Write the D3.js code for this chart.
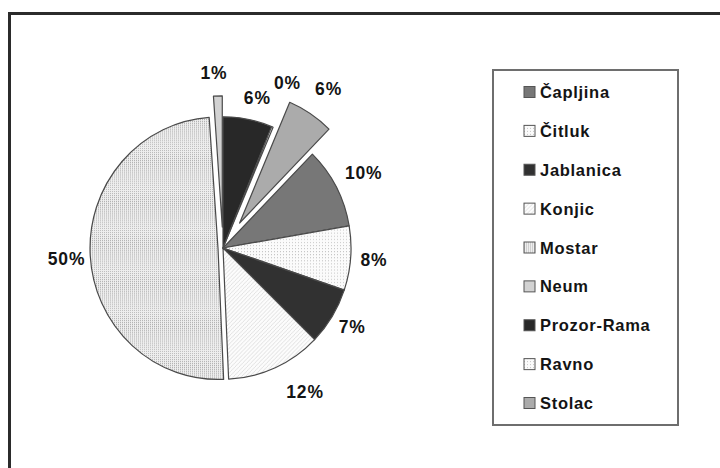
<!DOCTYPE html>
<html>
<head>
<meta charset="utf-8">
<script src="https://cdn.jsdelivr.net/npm/d3@7"></script>
<style>
  body { margin: 0; background: #fff; }
  text { font-family: "Liberation Sans", Arial, sans-serif; font-weight: bold; fill: #141414; }
</style>
</head>
<body>
<div id="chart"></div>
<script>
// data (shares in %, clockwise from Čapljina)
const municipalities = ["Čapljina", "Čitluk", "Jablanica", "Konjic", "Mostar", "Neum", "Prozor-Rama", "Ravno", "Stolac"];
const shares = [10.0, 7.9, 7.1, 12.0, 49.6, 1.1, 6.2, 0.2, 5.9];

const w = 720;   //width of svg
const h = 468;   //height of svg
const cx = 223, cy = 248;  //pie centre
const R = 128;   //pie radius
const ky = 1.025; //pie is a touch taller than wide

// looks of each slice
const fills = {
  "Čapljina": "#777777",
  "Čitluk": "url(#dots-light)",
  "Jablanica": "#313131",
  "Konjic": "url(#hatch-light)",
  "Mostar": "url(#dots-dense)",
  "Neum": "#d2d2d2",
  "Prozor-Rama": "#282828",
  "Ravno": "url(#dots-light)",
  "Stolac": "#ababab"
};
const explode = { "Mostar": 5, "Neum": 21, "Stolac": 30 };
const labelNudge = {
  "Ravno": [6, -26], "Konjic": [18, 7], "Neum": [-3, -3], "Stolac": [5, -8],
  "Prozor-Rama": [5, -2], "Čapljina": [2, -5], "Mostar": [5, 2]
};

const svg = d3.select("#chart").append("svg")
  .attr("width", w)
  .attr("height", h);

//patterns
const defs = svg.append("defs");
const p1 = defs.append("pattern").attr("id", "dots-light")
  .attr("width", 3).attr("height", 3).attr("patternUnits", "userSpaceOnUse");
p1.append("rect").attr("width", 3).attr("height", 3).attr("fill", "#fbfbfb");
p1.append("rect").attr("width", 1).attr("height", 1).attr("fill", "#c4c4c4");

const p2 = defs.append("pattern").attr("id", "dots-dense")
  .attr("width", 2).attr("height", 2).attr("patternUnits", "userSpaceOnUse");
p2.append("rect").attr("width", 2).attr("height", 2).attr("fill", "#eeeeee");
p2.append("rect").attr("width", 1).attr("height", 1).attr("fill", "#b0b0b0");

const p3 = defs.append("pattern").attr("id", "hatch-light")
  .attr("width", 4).attr("height", 4).attr("patternUnits", "userSpaceOnUse");
p3.append("rect").attr("width", 4).attr("height", 4).attr("fill", "#fcfcfc");
p3.append("path").attr("d", "M0,4L4,0").attr("stroke", "#dcdcdc").attr("stroke-width", 0.8);

//outer frame
svg.append("rect")
  .attr("x", 9.5).attr("y", 13.5)
  .attr("width", w).attr("height", h)
  .attr("fill", "none")
  .attr("stroke", "#2b2b2b")
  .attr("stroke-width", 3);

const startAngle = (shares[6] + shares[7] + shares[8]) / 100 * 2 * Math.PI;
const pie = d3.pie().sort(null).value(d => d)
  .startAngle(startAngle).endAngle(startAngle + 2 * Math.PI);
const arc = d3.arc().innerRadius(0).outerRadius(R);

const arcs = pie(shares).map((d, i) => {
  const mid = (d.startAngle + d.endAngle) / 2;
  const off = explode[municipalities[i]] || 0;
  return Object.assign(d, {
    name: municipalities[i], mid: mid, off: off,
    ox: cx + off * Math.sin(mid), oy: cy - off * Math.cos(mid)
  });
});

//slices
svg.append("g").selectAll("path")
  .data(arcs)
  .enter()
  .append("path")
  .attr("transform", d => "translate(" + d.ox + "," + d.oy + ") scale(1," + ky + ")")
  .attr("d", arc)
  .attr("fill", d => fills[d.name])
  .attr("stroke", "#4a4a4a")
  .attr("stroke-width", 1.2)
  .attr("stroke-linejoin", "round");

//percent labels outside the slices
const labels = svg.append("g").selectAll("text")
  .data(arcs)
  .enter()
  .append("text")
  .attr("font-size", 17.5)
  .attr("letter-spacing", 0.8)
  .attr("text-anchor", "middle")
  .attr("dominant-baseline", "central")
  .text(d => Math.round(d.value) + "%");

labels.each(function (d) {
  const tw = this.getComputedTextLength();
  const sx = Math.sin(d.mid), sy = -Math.cos(d.mid);
  const rr = d.off + R + 10;
  const n = labelNudge[d.name] || [0, 0];
  d3.select(this)
    .attr("x", cx + rr * sx + sx * tw / 2 + n[0])
    .attr("y", cy + rr * ky * sy + sy * 9 + n[1]);
});

//legend
const legend = svg.append("g").attr("id", "legend");
legend.append("rect")
  .attr("x", 493).attr("y", 70)
  .attr("width", 185).attr("height", 355)
  .attr("fill", "#fff")
  .attr("stroke", "#6e6e6e")
  .attr("stroke-width", 2);

const row = d3.scalePoint().domain(municipalities).range([92, 403]);

const items = legend.selectAll(".item")
  .data(municipalities)
  .enter()
  .append("g")
  .attr("class", "item")
  .attr("transform", d => "translate(524," + row(d) + ")");

items.append("rect")
  .attr("x", 0).attr("y", -5.5)
  .attr("width", 11).attr("height", 11)
  .attr("fill", d => fills[d])
  .attr("stroke", "#555")
  .attr("stroke-width", 1);

items.append("text")
  .attr("x", 16)
  .attr("font-size", 16.5)
  .attr("letter-spacing", 0.7)
  .attr("dominant-baseline", "central")
  .text(d => d);
</script>
</body>
</html>
